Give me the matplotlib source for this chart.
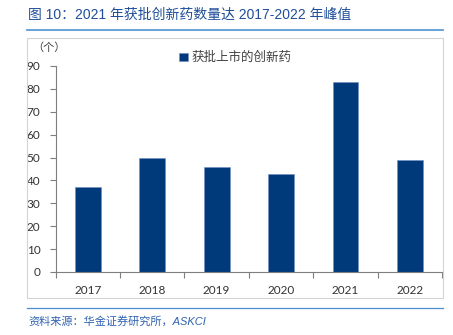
import matplotlib
matplotlib.use("Agg")
import matplotlib.pyplot as plt
from matplotlib.patches import Rectangle
from matplotlib.lines import Line2D

plt.rcParams['font.family'] = ['Liberation Sans', 'Noto Sans CJK SC', 'DejaVu Sans']

years = ["2017", "2018", "2019", "2020", "2021", "2022"]
approved = [37, 50, 46, 43, 83, 49]
series_name = "获批上市的创新药"
title = "图 10：2021 年获批创新药数量达 2017-2022 年峰值"
source = "资料来源：华金证券研究所，ASKCI"
unit = "（个）"
yticks = list(range(0, 91, 10))

W, H = 453, 335
fig = plt.figure(figsize=(W / 100, H / 100), dpi=100)

def fx(px):
    return px / W

def fy(py):
    return 1 - py / H

# light frame around the chart area
fig.patches.append(Rectangle((fx(27), fy(298)), fx(442.5) - fx(27), fy(38) - fy(298),
                             transform=fig.transFigure, fill=False,
                             edgecolor="#d4d4d4", linewidth=0.8))
# header and footer rules
fig.lines.append(Line2D([fx(27), fx(443)], [fy(29.5), fy(29.5)], transform=fig.transFigure,
                        color="#5b9bd5", linewidth=1.3))
fig.lines.append(Line2D([fx(27), fx(443)], [fy(307.5), fy(307.5)], transform=fig.transFigure,
                        color="#4a8fd3", linewidth=0.9))

fig.text(fx(28), fy(15), title, fontsize=10, color="#1f4e9a", va="center", ha="left",
         family=['Liberation Sans', 'Noto Sans CJK SC'])
fig.text(fx(28), fy(321), source, fontsize=8, color="#2f62b0", va="center", ha="left",
         style="italic", family=['Liberation Sans', 'Noto Sans CJK SC'])

ax = fig.add_axes([fx(55.7), fy(272), fx(442) - fx(55.7), fy(66) - fy(272)])
ax.set_facecolor("none")
x = list(range(len(years)))
ax.bar(x, approved, width=0.4, color="#003a7a", edgecolor="#6f8fbf", linewidth=0.4,
       label=series_name, zorder=2)
ax.set_xlim(-0.5, len(years) - 0.5)
ax.set_ylim(0, 90)
ax.set_yticks(yticks)
ax.set_yticklabels([str(v) for v in yticks], family="Lato", fontsize=8.5, color="#333333")
ax.set_xticks(x)
ax.set_xticklabels(years, family="Lato", fontsize=8.5, color="#333333")
ax.set_xticks([i - 0.5 for i in range(len(years) + 1)], minor=True)
ax.tick_params(axis="x", which="major", length=0, pad=9)
ax.tick_params(axis="x", which="minor", length=4, width=0.8, color="#7f7f7f")
ax.tick_params(axis="y", length=4, width=0.8, color="#7f7f7f", pad=7)
for side in ("top", "right"):
    ax.spines[side].set_visible(False)
for side in ("left", "bottom"):
    ax.spines[side].set_color("#7f7f7f")
    ax.spines[side].set_linewidth(0.8)

fig.text(fx(49), fy(48), unit, fontsize=8, color="#404040", va="center", ha="center",
         family=['Noto Sans CJK SC'])

leg = ax.legend(loc="upper left", bbox_to_anchor=(fx(168), fy(40)), bbox_transform=fig.transFigure,
                frameon=False, handlelength=0.7, handleheight=0.7, handletextpad=0.3,
                prop={"family": ["Noto Sans CJK SC"], "size": 9})
for t in leg.get_texts():
    t.set_color("#404040")

fig.savefig("out.png", dpi=100)
